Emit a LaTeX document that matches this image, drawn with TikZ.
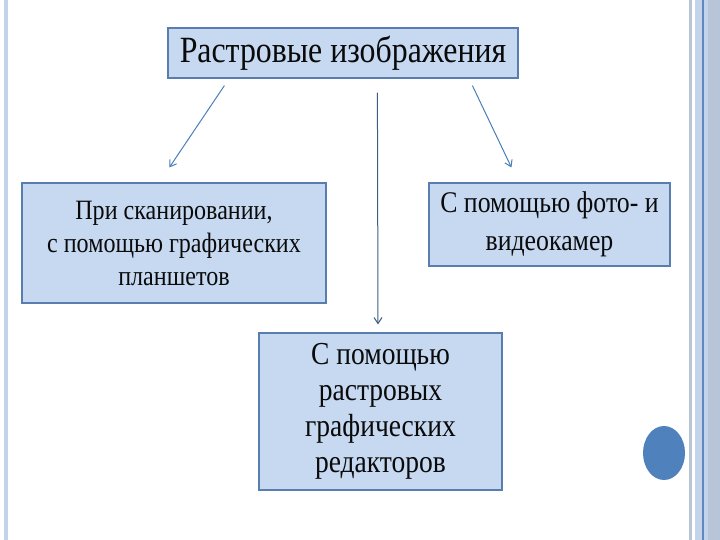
\documentclass[tikz,border=0pt]{standalone}
\usepackage{fontspec}
\setmainfont[FakeStretch=0.86]{Liberation Serif}
\usetikzlibrary{arrows.meta}
\definecolor{boxfill}{HTML}{C6D9F1}
\definecolor{boxline}{HTML}{5A7DAF}
\definecolor{arrowblue}{HTML}{4A7EBB}
\definecolor{arrowdark}{HTML}{3F5E82}
\definecolor{stripegray}{HTML}{B8C4D8}
\definecolor{stripelight}{HTML}{C3D3E9}
\definecolor{stripedark}{HTML}{5F88BF}
\definecolor{dotblue}{HTML}{4F81BD}
\definecolor{darktext}{HTML}{0A0A0A}

\tikzset{
  blockbox/.style={draw=boxline,line width=1.2pt,fill=boxfill,inner sep=0pt,
    align=center,text=darktext},
  arr/.style={draw=arrowblue,line width=1pt,-{Straight Barb[length=6pt,width=8pt]}}
}

\begin{document}
\begin{tikzpicture}[x=1pt,y=-1pt]
\useasboundingbox (0,0) rectangle (720,540);
\fill[white] (0,0) rectangle (720,540);
% side stripes
\fill[stripelight] (4,0) rectangle (8,540);
\fill[stripegray] (689,0) rectangle (692,540);
\fill[stripelight] (695,0) rectangle (702,540);
\fill[stripedark] (702,0) rectangle (704,540);
\fill[stripelight] (704,0) rectangle (708,540);
\fill[stripegray] (708,0) rectangle (720,540);

% boxes
\node[blockbox,minimum width=350pt,minimum height=50pt,font=\fontsize{37}{40}\selectfont] (title) at (343,53) {Растровые изображения};
\node[blockbox,minimum width=304pt,minimum height=120pt,font=\fontsize{28}{33}\selectfont] (scan) at (174,243) {При сканировании,\\с помощью графических\\планшетов};
\node[blockbox,minimum width=241pt,minimum height=83pt,font=\fontsize{30}{38}\selectfont] (camera) at (549.5,224.5) {С помощью фото- и\\видеокамер};
\node[blockbox,minimum width=243pt,minimum height=157pt,font=\fontsize{32}{36}\selectfont] (editor) at (380.5,411.5) {С помощью\\растровых\\графических\\редакторов};

% arrows
\draw[arr] ([xshift=57pt,yshift=-7pt]title.south west) -- ([xshift=148pt,yshift=15pt]scan.north west);
\draw[arr,draw=arrowdark] ([xshift=210pt,yshift=-14pt]title.south west) -- ([xshift=-2.5pt,yshift=8pt]editor.north);
\draw[arr] ([xshift=305pt,yshift=-7pt]title.south west) -- ([xshift=83pt,yshift=15pt]camera.north west);

% dot
\fill[dotblue] (664,453) ellipse (21pt and 27pt);
\end{tikzpicture}
\end{document}
